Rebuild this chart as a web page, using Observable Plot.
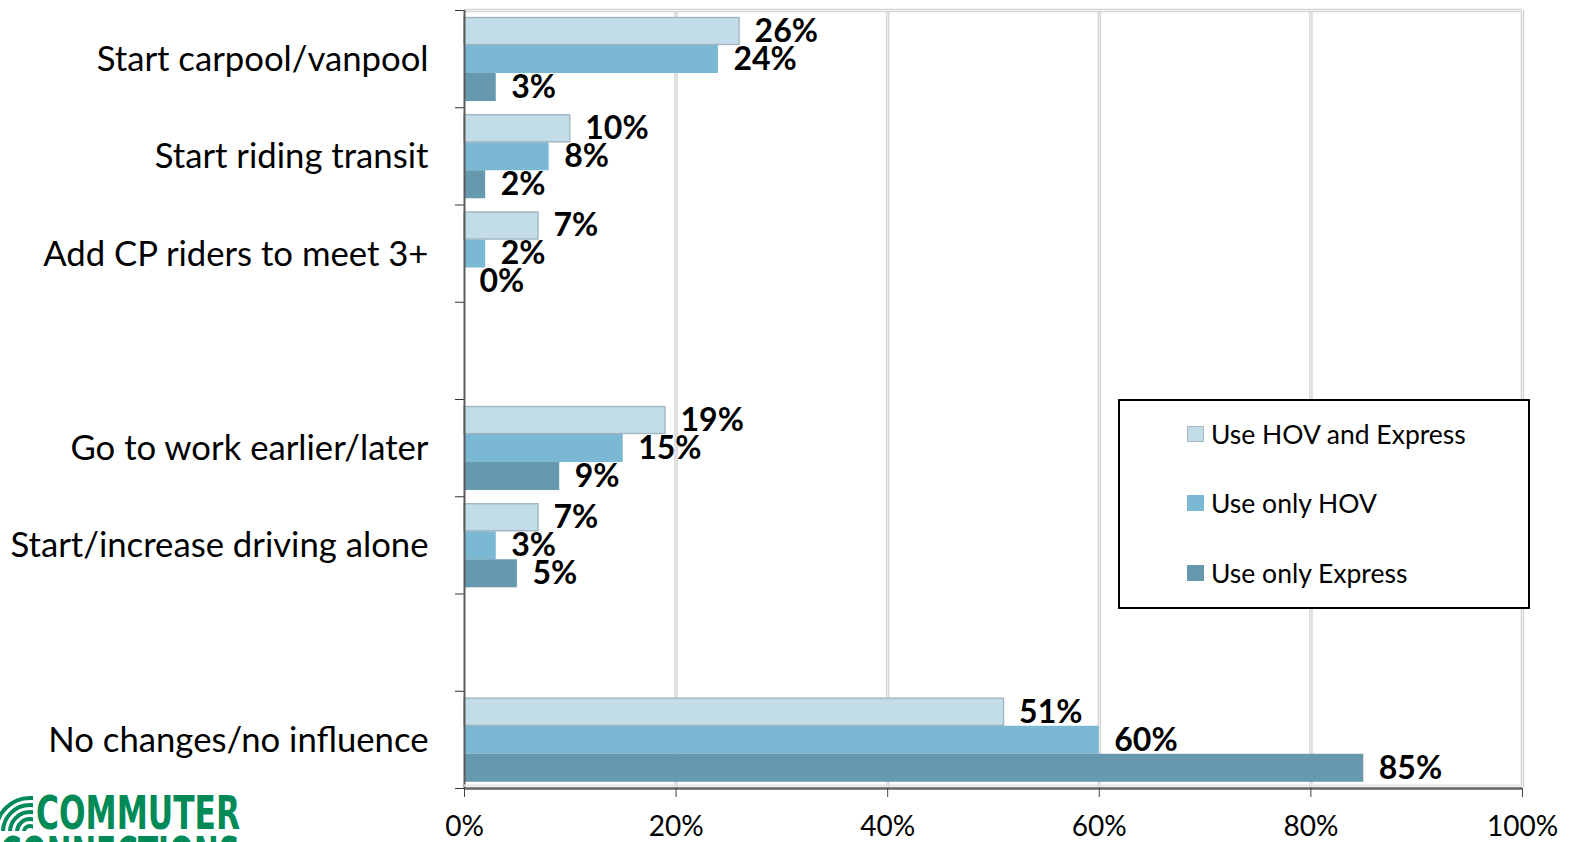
<!DOCTYPE html>
<html>
<head>
<meta charset="utf-8">
<script src="https://cdn.jsdelivr.net/npm/d3@7"></script>
<script src="https://cdn.jsdelivr.net/npm/@observablehq/plot@0.6"></script>
<style>
  html, body { margin: 0; padding: 0; background: #fff; overflow: hidden; }
  #wrap { position: relative; width: 1573px; height: 842px; font-family: Lato, "Open Sans", sans-serif; }
  #legend { position: absolute; left: 1118px; top: 399px; width: 408px; height: 206px; border: 2px solid #000; background: #fff; }
  .item { position: absolute; left: 67px; display: flex; align-items: center; font-size: 26.5px; color: #000; white-space: nowrap; }
  .swatch { width: 17px; height: 16px; margin-right: 7px; box-sizing: border-box; }
  #logo { position: absolute; left: 0; top: 790px; }
</style>
</head>
<body>
<div id="wrap">
  <div id="chart"></div>
  <div id="legend"></div>
  <svg id="logo" width="250" height="52" viewBox="0 0 250 52">
    <defs><clipPath id="iconClip"><rect x="0" y="5" width="33" height="36"/></clipPath></defs>
    <g clip-path="url(#iconClip)" fill="none" stroke="#008a58" stroke-width="4">
      <circle cx="30" cy="42" r="6"/>
      <circle cx="30" cy="42" r="13"/>
      <circle cx="30" cy="42" r="20"/>
      <circle cx="30" cy="42" r="27"/>
      <circle cx="30" cy="42" r="34"/>
    </g>
    <text x="36" y="39" fill="#008a58" font-family="'DejaVu Sans Condensed', 'DejaVu Sans'" font-weight="bold" font-size="47" textLength="204" lengthAdjust="spacingAndGlyphs">COMMUTER</text>
    <text x="0" y="80" fill="#008a58" font-family="'DejaVu Sans Condensed', 'DejaVu Sans'" font-weight="bold" font-size="47" textLength="240" lengthAdjust="spacingAndGlyphs">CONNECTIONS</text>
  </svg>
</div>
<script>
// Survey responses: how the new lanes would change commuting, by lane use group.
// null marks an empty slot between groups of categories.
const categories = [
  "Start carpool/vanpool",
  "Start riding transit",
  "Add CP riders to meet 3+",
  null,
  "Go to work earlier/later",
  "Start/increase driving alone",
  null,
  "No changes/no influence"
];
const seriesNames = ["Use HOV and Express", "Use only HOV", "Use only Express"];
const hovAndExpress = [26, 10, 7, null, 19, 7, null, 51];
const onlyHov       = [24,  8, 2, null, 15, 3, null, 60];
const onlyExpress   = [ 3,  2, 0, null,  9, 5, null, 85];
const xTicks = [0, 20, 40, 60, 80, 100];

const seriesColors = ["#c2dce8", "#7ab8d3", "#6699ae"];
const seriesValues = [hovAndExpress, onlyHov, onlyExpress];

// Each category slot spans one unit on y; the three bars share it with a small gap.
const slotPad = 0.072;
const barSpan = 0.288;

const rows = categories.flatMap((category, i) =>
  category == null ? [] : seriesNames.map((series, k) => ({
    category,
    series,
    value: seriesValues[k][i],
    y1: i + slotPad + k * barSpan,
    y2: i + slotPad + (k + 1) * barSpan
  }))
);
const labelRows = categories
  .map((category, i) => ({category, pos: i + 0.5}))
  .filter(d => d.category != null);

const chart = Plot.plot({
  width: 1573,
  height: 842,
  marginLeft: 464,
  marginRight: 51,
  marginTop: 10,
  marginBottom: 54,
  style: {fontFamily: "Lato, 'Open Sans', sans-serif", background: "#fff", color: "#000"},
  x: {domain: [0, 100]},
  y: {domain: [0, categories.length], reverse: true, axis: null},
  color: {domain: seriesNames, range: seriesColors},
  marks: [
    // double-line gridlines and plot-area top edge
    Plot.ruleX(xTicks.slice(1), {stroke: "#d3d3d3", strokeWidth: 3.5}),
    Plot.ruleX(xTicks.slice(1), {stroke: "#f3f3f3", strokeWidth: 1}),
    Plot.ruleY([0], {stroke: "#d3d3d3", strokeWidth: 3.5}),
    Plot.ruleY([0], {stroke: "#f3f3f3", strokeWidth: 1}),
    Plot.rect(rows, {x1: 0, x2: "value", y1: "y1", y2: "y2", fill: "series"}),
    Plot.rect(rows.filter(d => d.series === seriesNames[0]), {
      x1: 0, x2: "value", y1: "y1", y2: "y2", fill: "none", stroke: "#9fb4be", strokeWidth: 1.3, insetTop: 0.5, insetBottom: 0.5
    }),
    Plot.text(rows, {
      x: "value", y: d => (d.y1 + d.y2) / 2, text: d => `${d.value}%`,
      textAnchor: "start", dx: 15, fontSize: 32, fontWeight: "bold", fill: "#000"
    }),
    Plot.text(labelRows, {
      y: "pos", text: "category", frameAnchor: "left", textAnchor: "end",
      dx: -36, dy: 1, fontSize: 34.7, fill: "#000"
    }),
    Plot.axisY({ticks: d3.range(categories.length + 1), tickFormat: () => "", tickSize: 9, label: null, stroke: "#333"}),
    Plot.ruleX([0], {stroke: "#5a5a5a", strokeWidth: 2}),
    Plot.ruleY([categories.length], {stroke: "#e3e3e3", strokeWidth: 2, dy: -3}),
    Plot.ruleY([categories.length], {stroke: "#666", strokeWidth: 2.5}),
    Plot.axisX({ticks: xTicks, tickFormat: d => `${d}%`, tickSize: 9, tickPadding: 19, fontSize: 28, label: null, stroke: "#444", fill: "#000"})
  ]
});
document.getElementById("chart").append(chart);

// Legend built from the same series names and colours
const legend = document.getElementById("legend");
const rowTops = [33, 102, 172];
seriesNames.forEach((name, k) => {
  const item = document.createElement("div");
  item.className = "item";
  item.style.top = (rowTops[k] - 17) + "px";
  item.style.height = "34px";
  const sw = document.createElement("div");
  sw.className = "swatch";
  sw.style.background = seriesColors[k];
  if (k === 0) sw.style.border = "1px solid #a6b8c0";
  const label = document.createElement("span");
  label.textContent = name;
  item.append(sw, label);
  legend.append(item);
});
</script>
</body>
</html>
